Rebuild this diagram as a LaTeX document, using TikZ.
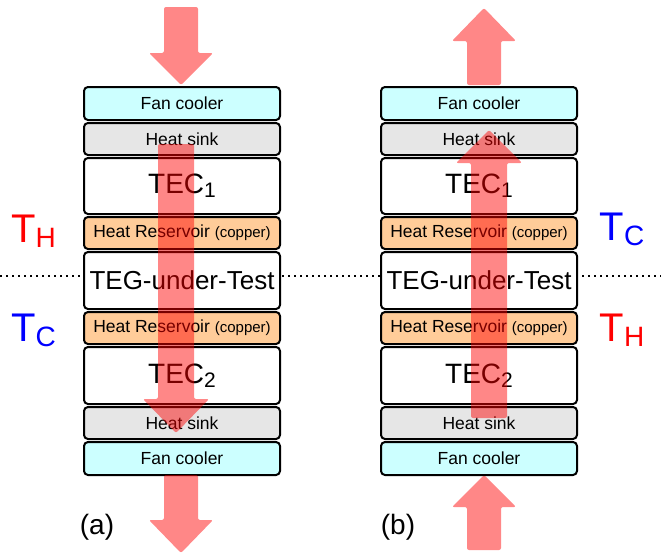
\documentclass[tikz,border=0pt]{standalone}
\usepackage{fontspec}
\setmainfont{Liberation Sans}

\definecolor{fancol}{HTML}{CCFFFF}
\definecolor{sinkcol}{HTML}{E6E6E6}
\definecolor{coppercol}{HTML}{FFCC99}

% T with lowered index, e.g. \Tsub{H}
\newcommand{\Tsub}[1]{T\raisebox{-5pt}{\fontsize{28}{28}\selectfont #1}}
% TEC with lowered number
\newcommand{\TECsub}[1]{TEC\raisebox{-4pt}{\fontsize{21}{21}\selectfont #1}}

\begin{document}
\begin{tikzpicture}[x=1pt, y=-1pt,
    slab/.style={draw, line width=2pt, rounded corners=4pt, minimum width=196pt,
                 inner sep=0pt, font=\fontsize{17.5}{20}\selectfont},
    thinslab/.style={slab, minimum height=32pt},
    thickslab/.style={slab, minimum height=57pt},
    heat/.style={fill=red, fill opacity=0.47, rounded corners=2pt},
    temp/.style={font=\fontsize{40}{40}\selectfont}]
\useasboundingbox (0,0) rectangle (661,554);

% Trennlinie TEG:
\draw[line width=1.5pt, dash pattern=on 1.5pt off 4.5pt] (0,276) -- (661,276);

% Stapel (a):
\node[thinslab, minimum height=33pt, fill=fancol] (fanA1) at (182,103.5) {Fan cooler};
\node[thinslab, fill=sinkcol] (sinkA1) at (182,139) {Heat sink};
\node[thickslab, minimum height=56pt, fill=white, font=\fontsize{28}{30}\selectfont] (tecA1) at (182,186) {\TECsub{1}};
\node[thinslab, fill=coppercol] (resA1) at (182,233) {Heat Reservoir {\fontsize{15}{17}\selectfont(copper)}};
\node[thickslab, fill=white, font=\fontsize{26}{28}\selectfont] (tegA) at (182,280.5) {TEG-under-Test};
\node[thinslab, fill=coppercol] (resA2) at (182,328) {Heat Reservoir {\fontsize{15}{17}\selectfont(copper)}};
\node[thickslab, fill=white, font=\fontsize{28}{30}\selectfont] (tecA2) at (182,375.5) {\TECsub{2}};
\node[thinslab, fill=sinkcol] (sinkA2) at (182,423) {Heat sink};
\node[thinslab, minimum height=33pt, fill=fancol] (fanA2) at (182,458.5) {Fan cooler};

% Stapel (b):
\node[thinslab, minimum height=33pt, fill=fancol] (fanB1) at (479,103.5) {Fan cooler};
\node[thinslab, fill=sinkcol] (sinkB1) at (479,139) {Heat sink};
\node[thickslab, minimum height=56pt, fill=white, font=\fontsize{28}{30}\selectfont] (tecB1) at (479,186) {\TECsub{1}};
\node[thinslab, fill=coppercol] (resB1) at (479,233) {Heat Reservoir {\fontsize{15}{17}\selectfont(copper)}};
\node[thickslab, fill=white, font=\fontsize{26}{28}\selectfont] (tegB) at (479,280.5) {TEG-under-Test};
\node[thinslab, fill=coppercol] (resB2) at (479,328) {Heat Reservoir {\fontsize{15}{17}\selectfont(copper)}};
\node[thickslab, fill=white, font=\fontsize{28}{30}\selectfont] (tecB2) at (479,375.5) {\TECsub{2}};
\node[thinslab, fill=sinkcol] (sinkB2) at (479,423) {Heat sink};
\node[thinslab, minimum height=33pt, fill=fancol] (fanB2) at (479,458.5) {Fan cooler};

% Waermefluss (a), nach unten:
\fill[heat] (181,85) -- (149,53) -- (164,53) -- (164,7) -- (198,7) -- (198,53) -- (213,53) -- cycle;
\fill[heat] (176,433) -- (143,399) -- (158,399) -- (158,144) -- (194,144) -- (194,399) -- (209,399) -- cycle;
\fill[heat] (181,553) -- (149,520) -- (164,520) -- (164,475) -- (198,475) -- (198,520) -- (213,520) -- cycle;

% Waermefluss (b), nach oben:
\fill[heat] (484,8) -- (516,41) -- (501,41) -- (501,85) -- (467,85) -- (467,41) -- (452,41) -- cycle;
\fill[heat] (489,130) -- (522,163) -- (507,163) -- (507,418) -- (471,418) -- (471,163) -- (456,163) -- cycle;
\fill[heat] (484,475) -- (516,507) -- (501,507) -- (501,550) -- (467,550) -- (467,507) -- (452,507) -- cycle;

% Temperaturen:
\node[temp, text=red] (hotA) at (33.5,231) {\Tsub{H}};
\node[temp, text=blue] (coldA) at (33.5,330.5) {\Tsub{C}};
\node[temp, text=blue] (coldB) at (622,229.5) {\Tsub{C}};
\node[temp, text=red] (hotB) at (622,330.5) {\Tsub{H}};

% Beschriftung:
\node[font=\fontsize{28}{30}\selectfont] (labA) at (97,527) {(a)};
\node[font=\fontsize{28}{30}\selectfont] (labB) at (398,527) {(b)};
\end{tikzpicture}
\end{document}
